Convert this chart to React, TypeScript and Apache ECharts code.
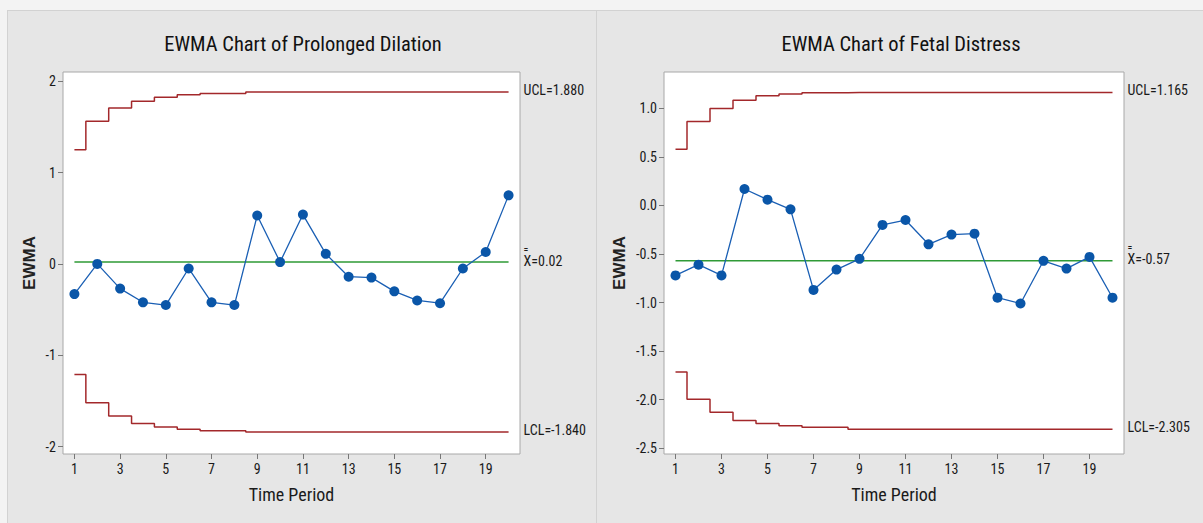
import React, { useEffect, useRef } from "react";
import * as echarts from "echarts";

const periods = ["1","2","3","4","5","6","7","8","9","10","11","12","13","14","15","16","17","18","19","20"];

const dilationTitle = "EWMA Chart of Prolonged Dilation";
const dilationEwma = [-0.33, 0.0, -0.27, -0.42, -0.45, -0.05, -0.42, -0.45, 0.53, 0.02, 0.54, 0.11, -0.14, -0.15, -0.30, -0.40, -0.43, -0.05, 0.13, 0.75];
const dilationUcl = [1.25, 1.56, 1.705, 1.78, 1.825, 1.85, 1.865, 1.865, 1.88, 1.88, 1.88, 1.88, 1.88, 1.88, 1.88, 1.88, 1.88, 1.88, 1.88, 1.88];
const dilationLcl = [-1.21, -1.52, -1.665, -1.745, -1.785, -1.81, -1.825, -1.825, -1.84, -1.84, -1.84, -1.84, -1.84, -1.84, -1.84, -1.84, -1.84, -1.84, -1.84, -1.84];
const dilationCenter = 0.02;
const dilationTicks = [-2, -1, 0, 1, 2];
const dilationLabels = { ucl: "UCL=1.880", center: "X=0.02", lcl: "LCL=-1.840" };

const distressTitle = "EWMA Chart of Fetal Distress";
const distressEwma = [-0.72, -0.61, -0.72, 0.17, 0.06, -0.04, -0.87, -0.66, -0.55, -0.20, -0.15, -0.40, -0.30, -0.29, -0.95, -1.01, -0.57, -0.65, -0.53, -0.95];
const distressUcl = [0.58, 0.865, 1.0, 1.085, 1.13, 1.148, 1.16, 1.16, 1.165, 1.165, 1.165, 1.165, 1.165, 1.165, 1.165, 1.165, 1.165, 1.165, 1.165, 1.165];
const distressLcl = [-1.715, -1.995, -2.13, -2.215, -2.245, -2.27, -2.285, -2.285, -2.305, -2.305, -2.305, -2.305, -2.305, -2.305, -2.305, -2.305, -2.305, -2.305, -2.305, -2.305];
const distressCenter = -0.57;
const distressTicks = [-2.5, -2.0, -1.5, -1.0, -0.5, 0.0, 0.5, 1.0];
const distressLabels = { ucl: "UCL=1.165", center: "X=-0.57", lcl: "LCL=-2.305" };

const NARROW = '"Liberation Sans Narrow", "Arial Narrow", "Roboto Condensed", Roboto, sans-serif';
const LIMIT_COLOR = "#a3282b";
const CENTER_COLOR = "#2f9a36";
const DATA_COLOR = "#1a5fb4";
const MARK_COLOR = "#0a56a8";

function buildPanel(idx: number, cfg: any) {
  const grid = {
    left: cfg.gridLeft,
    top: 72,
    width: cfg.gridWidth,
    height: 382,
    show: true,
    backgroundColor: "#ffffff",
    borderColor: "#a8a8a8",
    borderWidth: 1,
    containLabel: false,
  };
  const xAxis = {
    type: "category",
    gridIndex: idx,
    data: periods,
    boundaryGap: true,
    axisLine: { show: false, onZero: false },
    axisTick: { show: true, length: 5, interval: 1, alignWithLabel: true, lineStyle: { color: "#777" } },
    axisLabel: { interval: 1, margin: 8, fontFamily: NARROW, fontSize: 14, color: "#1a1a1a" },
    splitLine: { show: false },
    name: "Time Period",
    nameLocation: "middle",
    nameGap: 31,
    nameTextStyle: { fontFamily: NARROW, fontSize: 18, color: "#1a1a1a" },
  };
  const yAxis = {
    type: "value",
    gridIndex: idx,
    min: cfg.min,
    max: cfg.max,
    axisLine: { show: false, onZero: false },
    axisTick: { show: true, length: 5, customValues: cfg.ticks, lineStyle: { color: "#777" } },
    axisLabel: {
      customValues: cfg.ticks,
      margin: 7,
      fontFamily: NARROW,
      fontSize: 14,
      color: "#1a1a1a",
      formatter: (v: number) => cfg.decimals ? v.toFixed(cfg.decimals) : String(Math.round(v)),
    },
    splitLine: { show: false },
    name: "EWMA",
    nameLocation: "middle",
    nameGap: cfg.nameGap,
    nameTextStyle: { fontFamily: '"Liberation Sans", Arial, sans-serif', fontWeight: "bold", fontSize: 17, color: "#222" },
  };
  const endLabelBase = {
    show: true,
    distance: 15,
    fontFamily: NARROW,
    fontSize: 14,
    color: "#1a1a1a",
    align: "left",
  };
  const centerArr = periods.map(() => cfg.center);
  const series = [
    {
      type: "line", xAxisIndex: idx, yAxisIndex: idx, data: cfg.ucl, step: "middle", showSymbol: false, symbol: "none",
      lineStyle: { color: LIMIT_COLOR, width: 1.5 }, itemStyle: { color: LIMIT_COLOR }, silent: true,
      endLabel: { ...endLabelBase, formatter: () => cfg.labels.ucl, offset: [0, -2] },
    },
    {
      type: "line", xAxisIndex: idx, yAxisIndex: idx, data: cfg.lcl, step: "middle", showSymbol: false, symbol: "none",
      lineStyle: { color: LIMIT_COLOR, width: 1.5 }, itemStyle: { color: LIMIT_COLOR }, silent: true,
      endLabel: { ...endLabelBase, formatter: () => cfg.labels.lcl, offset: [0, -2] },
    },
    {
      type: "line", xAxisIndex: idx, yAxisIndex: idx, data: centerArr, showSymbol: false, symbol: "none",
      lineStyle: { color: CENTER_COLOR, width: 1.5 }, itemStyle: { color: CENTER_COLOR }, silent: true,
      endLabel: {
        ...endLabelBase,
        formatter: () => "{bar|=}\n{t|" + cfg.labels.center + "}",
        offset: [0, -5],
        rich: {
          bar: { fontFamily: NARROW, fontSize: 10, lineHeight: 7, color: "#1a1a1a" },
          t: { fontFamily: NARROW, fontSize: 14, lineHeight: 16, color: "#1a1a1a" },
        },
      },
    },
    {
      type: "line", xAxisIndex: idx, yAxisIndex: idx, data: cfg.ewma, symbol: "circle", symbolSize: 10, showSymbol: true,
      lineStyle: { color: DATA_COLOR, width: 1.3 }, itemStyle: { color: MARK_COLOR }, z: 5,
    },
  ];
  return { grid, xAxis, yAxis, series };
}

export default function App() {
  const ref = useRef<HTMLDivElement>(null);
  useEffect(() => {
    if (!ref.current) return;
    const chart = echarts.init(ref.current, null, { renderer: "svg" });
    const p0 = buildPanel(0, {
      gridLeft: 63, gridWidth: 457, min: -2.08, max: 2.1, ticks: dilationTicks, decimals: 0, nameGap: 25,
      ewma: dilationEwma, ucl: dilationUcl, lcl: dilationLcl, center: dilationCenter, labels: dilationLabels,
    });
    const p1 = buildPanel(1, {
      gridLeft: 664, gridWidth: 460, min: -2.56, max: 1.375, ticks: distressTicks, decimals: 1, nameGap: 36,
      ewma: distressEwma, ucl: distressUcl, lcl: distressLcl, center: distressCenter, labels: distressLabels,
    });
    const option: any = {
      animation: false,
      backgroundColor: "#e6e6e6",
      grid: [p0.grid, p1.grid],
      xAxis: [p0.xAxis, p1.xAxis],
      yAxis: [p0.yAxis, p1.yAxis],
      series: [...p0.series, ...p1.series],
      graphic: [
        { type: "rect", shape: { x: 0, y: 0, width: 1203, height: 10 }, style: { fill: "#f3f3f3" }, silent: true },
        { type: "rect", shape: { x: 0, y: 0, width: 7, height: 523 }, style: { fill: "#f3f3f3" }, silent: true },
        { type: "line", shape: { x1: 7, y1: 10.5, x2: 1203, y2: 10.5 }, style: { stroke: "#d2d2d2", lineWidth: 1 }, silent: true },
        { type: "line", shape: { x1: 7.5, y1: 10, x2: 7.5, y2: 523 }, style: { stroke: "#d2d2d2", lineWidth: 1 }, silent: true },
        { type: "line", shape: { x1: 596.5, y1: 10, x2: 596.5, y2: 523 }, style: { stroke: "#d2d2d2", lineWidth: 1 }, silent: true },
        {
          type: "text", x: 303, y: 44,
          style: { text: dilationTitle, fontFamily: NARROW, fontSize: 20.5, fill: "#111", textAlign: "center", textVerticalAlign: "middle" },
          silent: true,
        },
        {
          type: "text", x: 901, y: 44,
          style: { text: distressTitle, fontFamily: NARROW, fontSize: 20.5, fill: "#111", textAlign: "center", textVerticalAlign: "middle" },
          silent: true,
        },
      ],
    };
    chart.setOption(option);
    return () => chart.dispose();
  }, []);
  return <div ref={ref} style={{ position: "fixed", left: 0, top: 0, width: 1203, height: 523 }} />;
}
